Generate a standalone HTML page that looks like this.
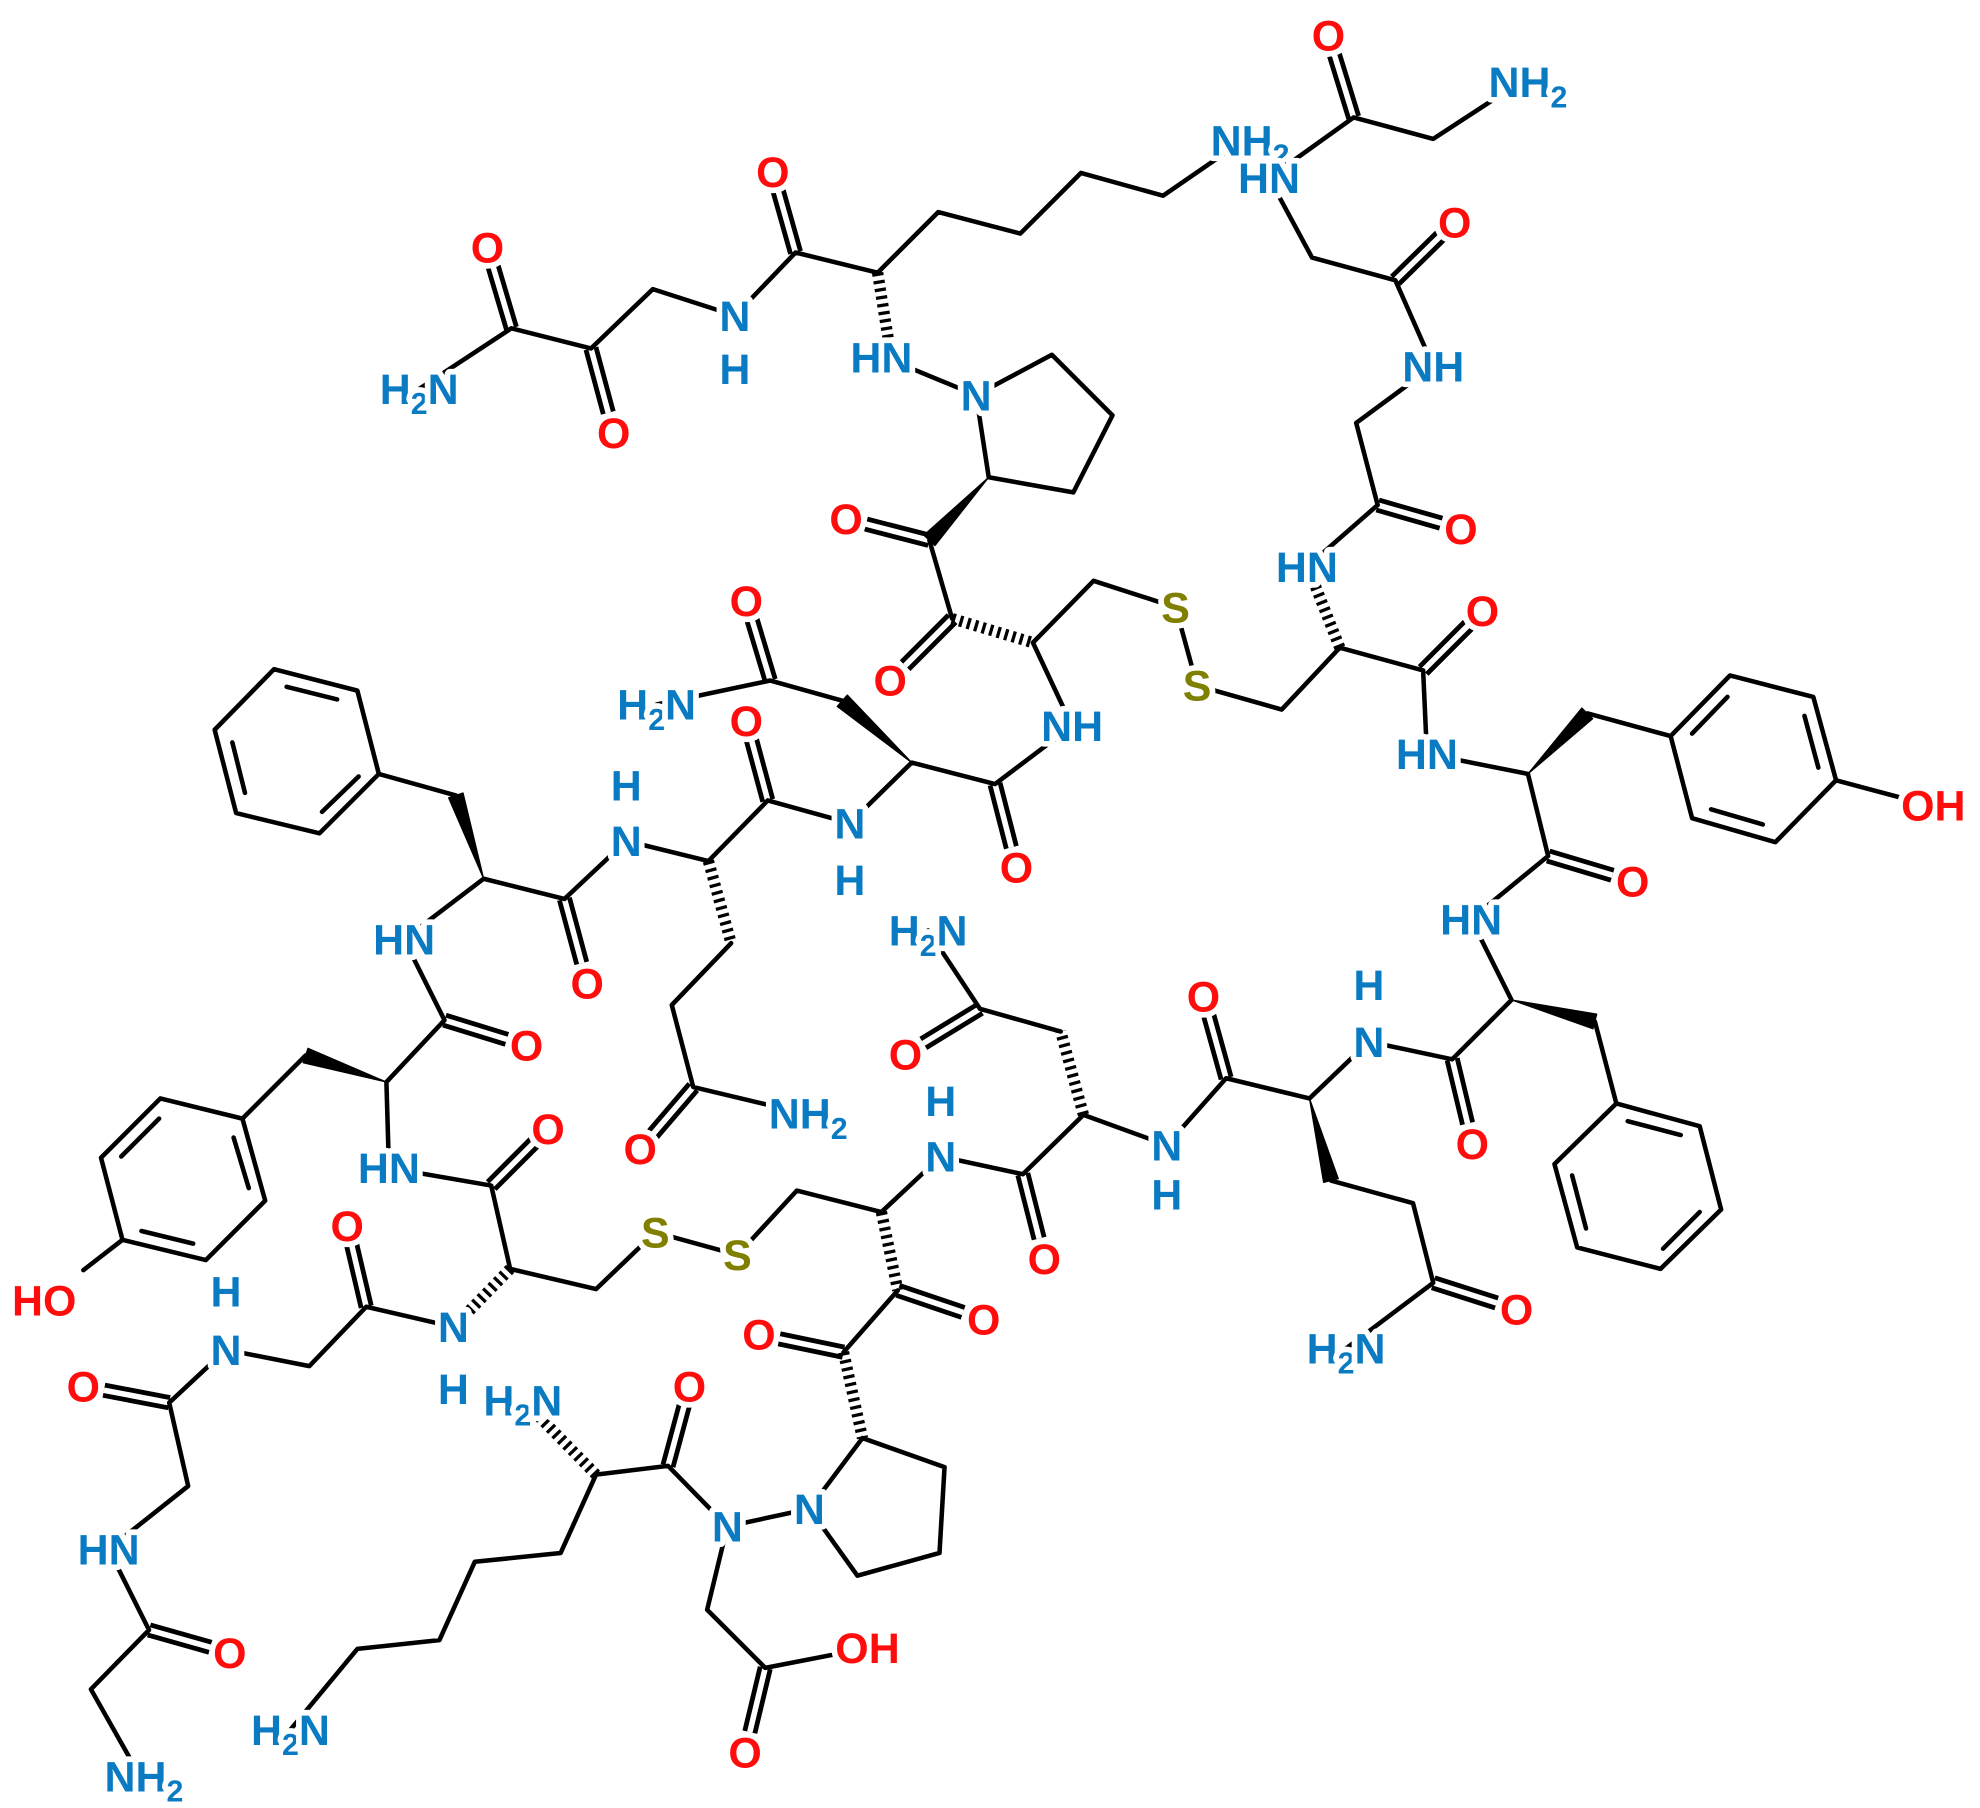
<!DOCTYPE html>
<html><head><meta charset="utf-8"><style>
html,body{margin:0;padding:0;background:#fff}
svg{display:block}
.b{stroke:#000;stroke-width:3.6;stroke-linecap:round;stroke-linejoin:round;fill:none}
.d{stroke:#000;stroke-width:12;stroke-linecap:butt;fill:none}
.dw{stroke:#fff;stroke-width:4.4;stroke-linecap:butt;fill:none}
.h{stroke:#000;stroke-width:9;stroke-dasharray:2.6 3.6;fill:none}
.w{fill:#000;stroke:#000;stroke-width:1;stroke-linejoin:round}
text{font-family:"Liberation Sans",Arial,sans-serif;font-weight:bold;font-size:34px;text-anchor:middle;stroke:#fff;stroke-width:9;stroke-linejoin:round;paint-order:stroke}
.N{fill:#0a7bc2}.O{fill:#ff0d0d}.S{fill:#7f7f00}
</style></head><body>
<svg width="1980" height="1808" viewBox="0 0 1568 1432" preserveAspectRatio="none" xmlns="http://www.w3.org/2000/svg">
<g>
<path class="d" d="M405,260L390.6,211.4 M468,276L481.7,326.9 M630,200L616.3,151.4 M736,428L685.8,415.1 M754,490L716.8,527.2 M1091,400L1141.2,414.4 M1105,222L1140.7,187 M1072,93L1056.8,43.6 M1127,531L1162.7,495.3 M1226,678L1276.9,693.2 M1150,839L1162.2,889.9 M1135,1016L1185.2,1032 M971,854L957.3,804.6 M776,799L731.2,826.4 M810,930L822.9,980.9 M711,1022L762.7,1039.5 M668,1071L617.1,1060.4 M529,1161L541.9,1113.1 M606,1321L593.8,1371.9 M389,939L423.2,904.8 M352,808L401.4,823.2 M447,712L460.7,762.9 M549,861L517.1,898.2 M608,634L595.1,586.1 M610,539L595.6,491.1 M788,621L800.9,671.2 M290,1035L278.6,986.4 M134,1111L82.3,1101.1 M118,1291L166.6,1304.7"/>
<path class="dw" d="M405,260L390.6,211.4 M468,276L481.7,326.9 M630,200L616.3,151.4 M736,428L685.8,415.1 M754,490L716.8,527.2 M1091,400L1141.2,414.4 M1105,222L1140.7,187 M1072,93L1056.8,43.6 M1127,531L1162.7,495.3 M1226,678L1276.9,693.2 M1150,839L1162.2,889.9 M1135,1016L1185.2,1032 M971,854L957.3,804.6 M776,799L731.2,826.4 M810,930L822.9,980.9 M711,1022L762.7,1039.5 M668,1071L617.1,1060.4 M529,1161L541.9,1113.1 M606,1321L593.8,1371.9 M389,939L423.2,904.8 M352,808L401.4,823.2 M447,712L460.7,762.9 M549,861L517.1,898.2 M608,634L595.1,586.1 M610,539L595.6,491.1 M788,621L800.9,671.2 M290,1035L278.6,986.4 M134,1111L82.3,1101.1 M118,1291L166.6,1304.7"/>
</g>
<path class="b" d="
M405,260L332,308 M405,260L468,276L517,229L582,250L630,200L695,216L743,168L808,185L856,137L921,155L985,111
M705,285L773,313 M773,313L833,281L881,329L850,390L783,378L773,313
M736,428L754,490 M818,509L866,460L931,481L948,543L1015,562L1061,513
M1035,449L1091,400L1074,335L1135,290 M1135,290L1105,222L1039,204L1005,141 M1005,141L1072,93L1135,110L1204,65
M1061,513L1127,531L1130,597L1210,613 M1257,565L1323,583
M1454,618L1510,633 M1210,613L1226,678L1165,728L1197,792 M1263,809L1280,874
M1197,792L1150,839L1084,825L1037,870 M1054,935L1119,953L1135,1016L1066,1068
M1037,870L971,854L924,907L858,883 M840,817L776,799L735,737
M858,883L810,930L745,916L698,960L631,943L584,994L519,976L472,1021L404,1005
M711,1022L668,1071
M683,1139L748,1162L744,1230L679,1248L641,1195L683,1139 M641,1195L576,1209L529,1161L472,1168
M472,1168L444,1230L376,1237L348,1299L283,1306L230,1370
M576,1209L560,1275L606,1321L668,1309
M404,1005L389,939L308,925L306,857 M242,836L192,886
M306,857L352,808L320,744L383,696 M361,630L300,613
M383,696L447,712L496,666L561,682 M579,747L532,796L549,861L637,882
M561,682L608,634L673,652L722,604 M667,555L610,539L520,558
M722,604L788,621L849,575L818,509
M359,1051L290,1035L245,1082L179,1069L134,1111L149,1177L86,1227L118,1291L72,1338L111,1407
M217,530L283,547L300,613L253,660L187,644L170,578Z
M227,544L267,554 M184,588L194,628 M284,615L255,643
M1323,583L1370,535L1436,552L1454,618L1406,667L1340,648Z
M1340,581L1368,552 M1429,567L1440,608 M1396,653L1355,641
M1280,874L1346,892L1363,958L1315,1005L1249,988L1231,922Z
M1289,888L1331,899 M1346,960L1317,989 M1256,973L1245,931
M192,886L210,951L163,998L97,982L80,917L127,870Z
M185,901L197,941 M153,985L112,975 M96,916L126,886
M97,982L66,1006
"/>
<path class="h" d="M695,216L704,272 M754,490L818,509 M1061,513L1038,455 M858,883L840,817 M698,960L711,1022 M668,1071L683,1139 M472,1168L424,1119 M561,682L579,747 M404,1005L366,1044"/>
<g class="w">
<polygon points="783,378 740.4,432.1 731.6,423.9"/>
<polygon points="1210,613 1261.3,569.2 1252.7,560.8"/>
<polygon points="1197,792 1261.5,814.8 1264.5,803.2"/>
<polygon points="1037,870 1048.2,936.5 1059.8,933.5"/>
<polygon points="306,857 243.9,830.3 240.1,841.7"/>
<polygon points="383,696 366.7,628.1 355.3,631.9"/>
<polygon points="722,604 671,550.5 663,559.5"/>
</g>
<g>
<text class="O" x="386" y="208">O</text>
<text class="N" x="332" y="320">H<tspan font-size="24" dy="8">2</tspan><tspan dy="-8">N</tspan></text>
<text class="O" x="486" y="355">O</text>
<text class="N" x="582" y="262">N</text><text class="N" x="582" y="304">H</text>
<text class="O" x="612" y="148">O</text>
<text class="N" x="990" y="123">NH<tspan font-size="24" dy="8">2</tspan></text>
<text class="N" x="698" y="295">HN</text>
<text class="N" x="773" y="325">N</text>
<text class="O" x="670" y="423">O</text>
<text class="O" x="705" y="551">O</text>
<text class="S" x="931" y="493">S</text>
<text class="S" x="948" y="555">S</text>
<text class="O" x="1052" y="40">O</text>
<text class="N" x="1210" y="77">NH<tspan font-size="24" dy="8">2</tspan></text>
<text class="N" x="1005" y="153">HN</text>
<text class="O" x="1152" y="188">O</text>
<text class="N" x="1135" y="302">NH</text>
<text class="O" x="1157" y="431">O</text>
<text class="N" x="1035" y="461">HN</text>
<text class="O" x="1174" y="496">O</text>
<text class="N" x="1130" y="609">HN</text>
<text class="O" x="1531" y="650">OH</text>
<text class="O" x="1293" y="710">O</text>
<text class="N" x="1165" y="740">HN</text>
<text class="O" x="1166" y="918">O</text>
<text class="N" x="1084" y="837">N</text><text class="N" x="1084" y="792">H</text>
<text class="O" x="1201" y="1049">O</text>
<text class="N" x="1066" y="1080">H<tspan font-size="24" dy="8">2</tspan><tspan dy="-8">N</tspan></text>
<text class="O" x="953" y="801">O</text>
<text class="N" x="924" y="919">N</text><text class="N" x="924" y="958">H</text>
<text class="N" x="735" y="749">H<tspan font-size="24" dy="8">2</tspan><tspan dy="-8">N</tspan></text>
<text class="O" x="717" y="847">O</text>
<text class="O" x="827" y="1009">O</text>
<text class="N" x="745" y="928">N</text><text class="N" x="745" y="884">H</text>
<text class="N" x="849" y="587">NH</text>
<text class="O" x="805" y="699">O</text>
<text class="N" x="673" y="664">N</text><text class="N" x="673" y="709">H</text>
<text class="O" x="591" y="583">O</text>
<text class="O" x="591" y="488">O</text>
<text class="N" x="520" y="570">H<tspan font-size="24" dy="8">2</tspan><tspan dy="-8">N</tspan></text>
<text class="N" x="496" y="678">N</text><text class="N" x="496" y="634">H</text>
<text class="O" x="465" y="791">O</text>
<text class="O" x="507" y="922">O</text>
<text class="N" x="640" y="894">NH<tspan font-size="24" dy="8">2</tspan></text>
<text class="N" x="320" y="756">HN</text>
<text class="O" x="417" y="840">O</text>
<text class="N" x="308" y="937">HN</text>
<text class="O" x="434" y="906">O</text>
<text class="O" x="35" y="1042">HO</text>
<text class="S" x="519" y="988">S</text>
<text class="S" x="584" y="1006">S</text>
<text class="O" x="779" y="1057">O</text>
<text class="O" x="601" y="1069">O</text>
<text class="N" x="641" y="1207">N</text>
<text class="N" x="576" y="1221">N</text>
<text class="O" x="546" y="1110">O</text>
<text class="N" x="414" y="1121">H<tspan font-size="24" dy="8">2</tspan><tspan dy="-8">N</tspan></text>
<text class="N" x="230" y="1382">H<tspan font-size="24" dy="8">2</tspan><tspan dy="-8">N</tspan></text>
<text class="O" x="687" y="1317">OH</text>
<text class="O" x="590" y="1400">O</text>
<text class="N" x="359" y="1063">N</text><text class="N" x="359" y="1112">H</text>
<text class="O" x="275" y="983">O</text>
<text class="N" x="179" y="1081">N</text><text class="N" x="179" y="1035">H</text>
<text class="O" x="66" y="1110">O</text>
<text class="N" x="86" y="1239">HN</text>
<text class="O" x="182" y="1321">O</text>
<text class="N" x="114" y="1419">NH<tspan font-size="24" dy="8">2</tspan></text>
</g>
</svg>
</body></html>
